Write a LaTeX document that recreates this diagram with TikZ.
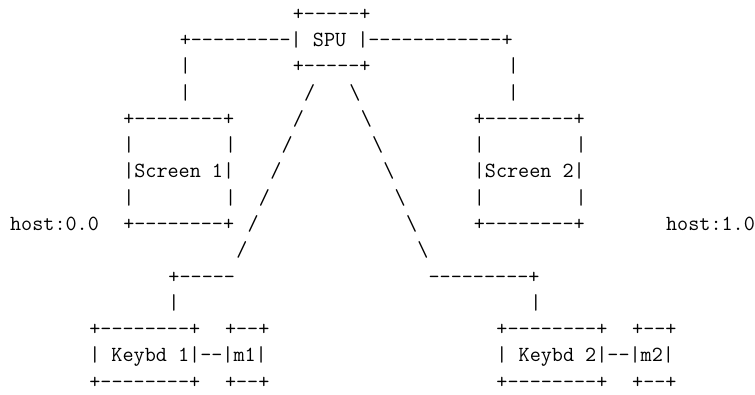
\documentclass[tikz,border=0pt]{standalone}
\newcommand\ascfont{\ttfamily\fontsize{21.54}{26}\selectfont}
\newcommand\Dn[1]{\foreach\k in {1,...,#1}{\mbox{-}}}
\newcommand\bs{\textbackslash}
\begin{document}
\begin{tikzpicture}[seg/.style={anchor=base west, inner sep=0pt, outer sep=0pt, font=\ascfont, yshift=-6.2pt}]
\useasboundingbox (0,0) rectangle (755pt,-394pt);
\begin{scope}[shift={(10.15pt,-14pt)}, x=11.31pt, y=-26.29pt]
% row 0-3: SPU
\node[seg] (spuT) at (25,0) {+\Dn{5}+};
\node[seg] (spuM) at (15,1) {+\Dn{9}| SPU |\Dn{12}+};
\node[seg] (lv2) at (15,2) {|};
\node[seg] (spuB) at (25,2) {+\Dn{5}+};
\node[seg] (rv2) at (44,2) {|};
\node[seg] (lv3) at (15,3) {|};
\node[seg] (sa3) at (26,3) {/};
\node[seg] (ba3) at (30,3) {\bs};
\node[seg] (rv3) at (44,3) {|};
% row 4
\node[seg] (s1t) at (10,4) {+\Dn{8}+};
\node[seg] (sa4) at (25,4) {/};
\node[seg] (ba4) at (31,4) {\bs};
\node[seg] (s2t) at (41,4) {+\Dn{8}+};
% row 5
\node[seg] (s1l5) at (10,5) {|};
\node[seg] (s1r5) at (19,5) {|};
\node[seg] (sa5) at (24,5) {/};
\node[seg] (ba5) at (32,5) {\bs};
\node[seg] (s2l5) at (41,5) {|};
\node[seg] (s2r5) at (50,5) {|};
% row 6
\node[seg] (s1m) at (10,6) {|Screen 1|};
\node[seg] (sa6) at (23,6) {/};
\node[seg] (ba6) at (33,6) {\bs};
\node[seg] (s2m) at (41,6) {|Screen 2|};
% row 7
\node[seg] (s1l7) at (10,7) {|};
\node[seg] (s1r7) at (19,7) {|};
\node[seg] (sa7) at (22,7) {/};
\node[seg] (ba7) at (34,7) {\bs};
\node[seg] (s2l7) at (41,7) {|};
\node[seg] (s2r7) at (50,7) {|};
% row 8
\node[seg] (h0) at (0,8) {host:0.0};
\node[seg] (s1b) at (10,8) {+\Dn{8}+};
\node[seg] (sa8) at (21,8) {/};
\node[seg] (ba8) at (35,8) {\bs};
\node[seg] (s2b) at (41,8) {+\Dn{8}+};
\node[seg] (h1) at (58,8) {host:1.0};
% row 9
\node[seg] (sa9) at (20,9) {/};
\node[seg] (ba9) at (36,9) {\bs};
% row 10-11
\node[seg] (k1c) at (14,10) {+\Dn{5}};
\node[seg] (k2c) at (37,10) {\Dn{9}+};
\node[seg] (k1v) at (14,11) {|};
\node[seg] (k2v) at (46,11) {|};
% row 12-14: keyboards
\node[seg] (k1t) at (7,12) {+\Dn{8}+};
\node[seg] (m1t) at (19,12) {+\Dn{2}+};
\node[seg] (k2t) at (43,12) {+\Dn{8}+};
\node[seg] (m2t) at (55,12) {+\Dn{2}+};
\node[seg] (k1m) at (7,13) {| Keybd 1|\Dn{2}|m1|};
\node[seg] (k2m) at (43,13) {| Keybd 2|\Dn{2}|m2|};
\node[seg] (k1b) at (7,14) {+\Dn{8}+};
\node[seg] (m1b) at (19,14) {+\Dn{2}+};
\node[seg] (k2b) at (43,14) {+\Dn{8}+};
\node[seg] (m2b) at (55,14) {+\Dn{2}+};
\end{scope}
\end{tikzpicture}
\end{document}
